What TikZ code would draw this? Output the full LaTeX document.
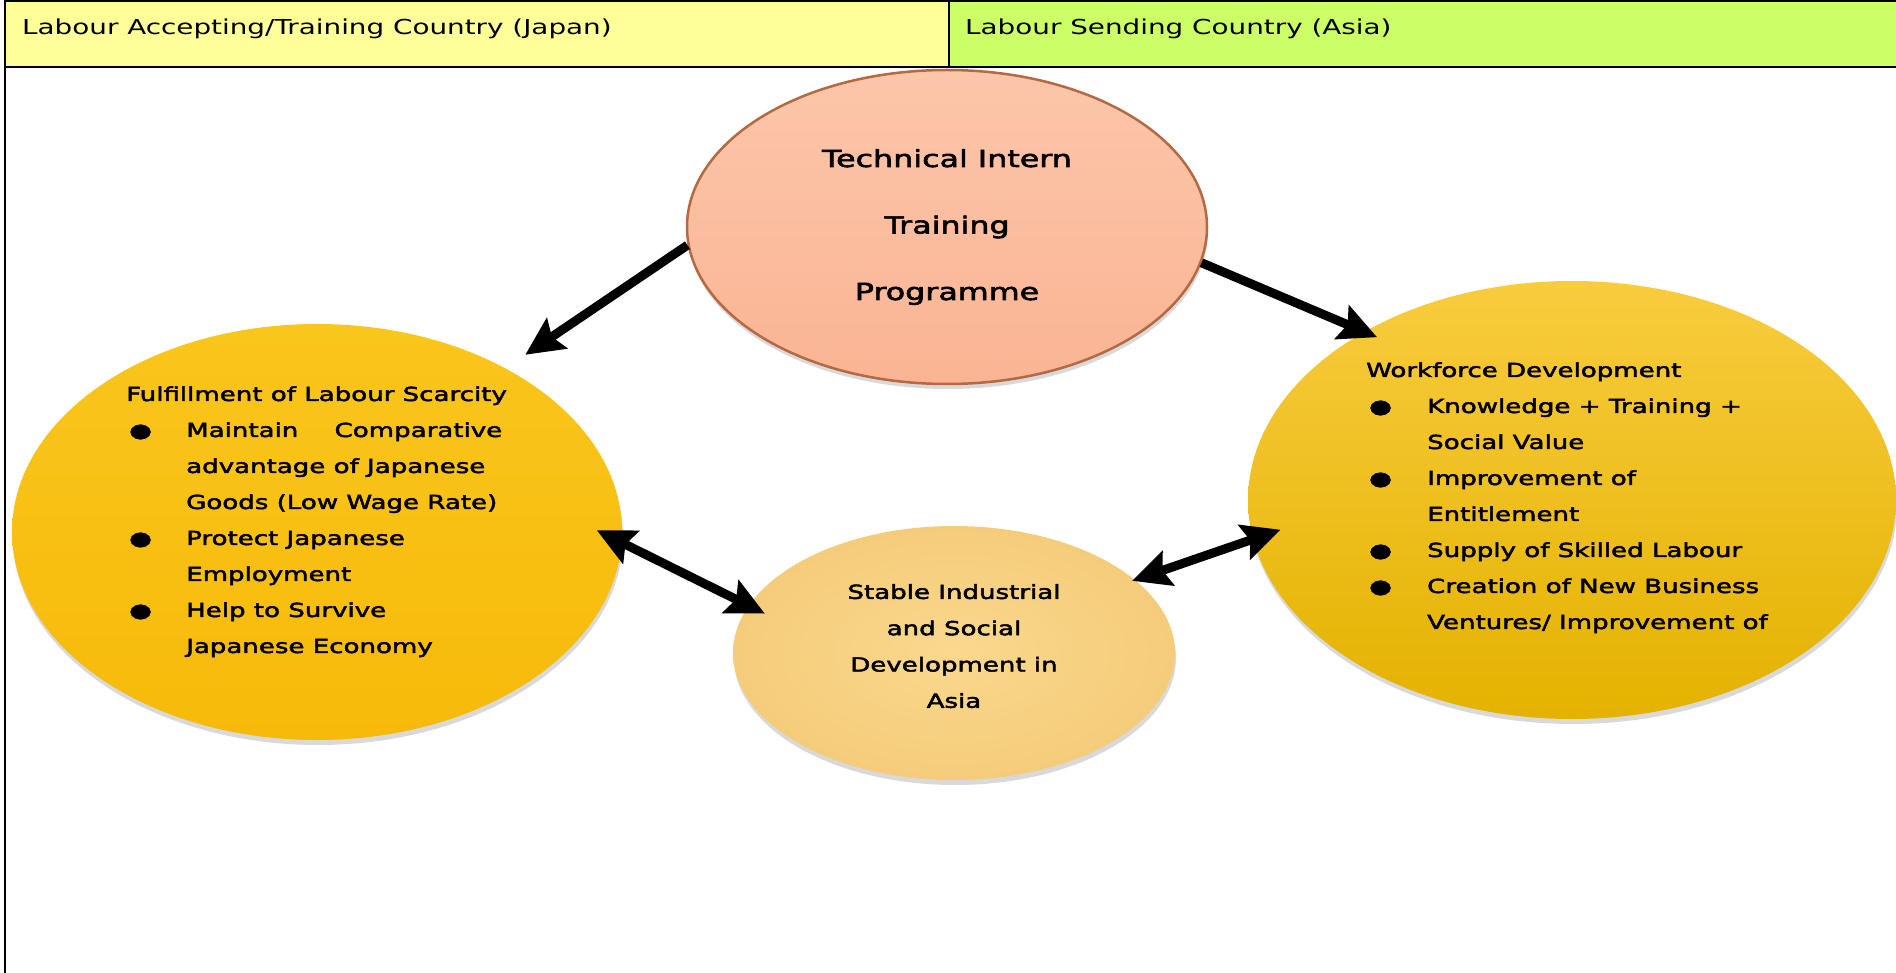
\documentclass[tikz,border=0pt]{standalone}
\usepackage{fontspec}
\setmainfont[FakeStretch=1.35]{DejaVu Sans}
\newfontfamily\blobfont[FakeStretch=1.35, FakeBold=2.5]{DejaVu Sans}
\usepackage{tikz}
\usetikzlibrary{shapes.geometric, arrows.meta, shadows}

\definecolor{headjapan}{RGB}{255,255,153}
\definecolor{headasia}{RGB}{204,255,102}
\definecolor{peachtop}{RGB}{252,198,170}
\definecolor{peachbot}{RGB}{250,180,148}
\definecolor{peachrim}{RGB}{180,105,65}
\definecolor{goldtop}{RGB}{249,198,28}
\definecolor{goldbot}{RGB}{247,186,10}
\definecolor{ambertop}{RGB}{248,204,62}
\definecolor{amberbot}{RGB}{228,178,0}
\definecolor{sandin}{RGB}{250,216,142}
\definecolor{sandout}{RGB}{245,204,122}

\begin{document}
\begin{tikzpicture}[x=1pt, y=-1pt,
	blob/.style={ellipse, inner sep=0pt, drop shadow={shadow xshift=1pt, shadow yshift=-5pt, opacity=.3}},
	headtext/.style={font=\fontsize{20.6}{24}\selectfont, inner sep=0pt, anchor=base west},
	listtext/.style={font=\blobfont\fontsize{19.3}{36}\selectfont, inner sep=0pt, anchor=base west},
	onearrow/.style={line width=9pt, -{Stealth[length=38pt, width=36pt, inset=6pt]}},
	twoarrow/.style={line width=9pt, {Stealth[length=38pt, width=36pt, inset=6pt]}-{Stealth[length=38pt, width=36pt, inset=6pt]}}]
	\useasboundingbox (0,0) rectangle (1896,973);

	\fill[headjapan] (5,1) rectangle (949,67);
	\fill[headasia] (949,1) rectangle (1896,67);
	\draw[line width=2pt] (1896,1) -- (5,1) -- (5,973);
	\draw[line width=2pt] (5,67) -- (1896,67);
	\draw[line width=2pt] (949,1) -- (949,67);
	\node[headtext] (accepting) at (22,35) {Labour Accepting/Training Country (Japan)};
	\node[headtext] (sending) at (965,35) {Labour Sending Country (Asia)};

	\node[blob, top color=peachtop, bottom color=peachbot, draw=peachrim, line width=2.5pt, minimum width=520pt, minimum height=314pt, align=center, font=\blobfont\fontsize{23.5}{66.5}\selectfont] (titp) at (947,227) {Technical Intern\\Training\\Programme};
	\node[blob, top color=goldtop, bottom color=goldbot, minimum width=610pt, minimum height=416pt] (japan) at (317,532) {};
	\node[blob, top color=ambertop, bottom color=amberbot, minimum width=648pt, minimum height=438pt] (asia) at (1572,500) {};
	\node[blob, inner color=sandin, outer color=sandout, minimum width=442pt, minimum height=254pt, align=center, text depth=14pt, font=\blobfont\fontsize{19.3}{36.3}\selectfont] (devel) at (954,653) {Stable Industrial\\and Social\\Development in\\Asia};

	\node[listtext] (japanlist) at (126,401) {\begin{tabular}[t]{@{}p{60pt}@{}l@{}}
		\multicolumn{2}{@{}l@{}}{Fulfillment of Labour Scarcity}\\
		\hspace{3pt}● & \makebox[316pt][s]{Maintain Comparative}\\
		& advantage of Japanese\\
		& Goods (Low Wage Rate)\\
		\hspace{3pt}● & Protect Japanese\\
		& Employment\\
		\hspace{3pt}● & Help to Survive\\
		& Japanese Economy
	\end{tabular}};
	\node[listtext] (asialist) at (1366,377) {\begin{tabular}[t]{@{}p{61pt}@{}l@{}}
		\multicolumn{2}{@{}l@{}}{Workforce Development}\\
		\hspace{3pt}● & Knowledge + Training +\\
		& Social Value\\
		\hspace{3pt}● & Improvement of\\
		& Entitlement\\
		\hspace{3pt}● & Supply of Skilled Labour\\
		\hspace{3pt}● & Creation of New Business\\
		& Ventures/ Improvement of
	\end{tabular}};

	\draw[onearrow, shorten >=24pt] (titp.184.7) -- (japan.41.3);
	\draw[onearrow, shorten >=-14pt] (titp.352.2) -- (asia.141.1);
	\draw[twoarrow, shorten <=-28pt, shorten >=-18pt] (japan.358) -- (devel.167.5);
	\draw[twoarrow, shorten <=-3pt, shorten >=-29pt] (devel.22.4) -- (asia.187.9);
\end{tikzpicture}
\end{document}
